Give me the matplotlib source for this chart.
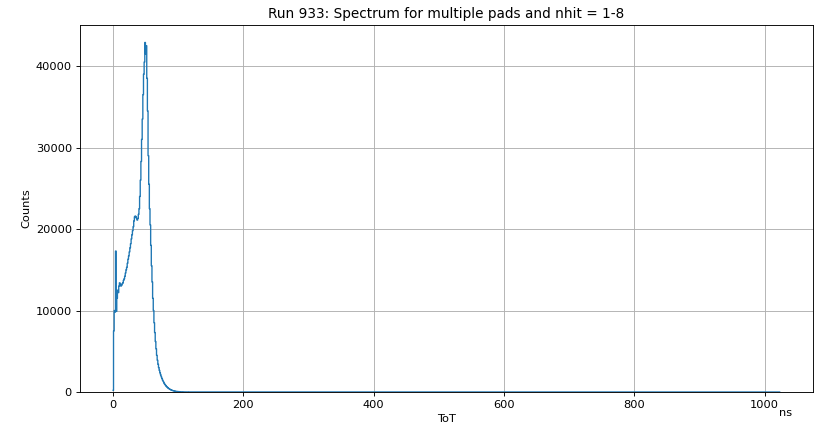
import numpy as np
import matplotlib
matplotlib.use("Agg")
import matplotlib.pyplot as plt

# counts per ToT bin (ns) for bins 0..120
peak_counts = [
    200, 7500, 10000, 9800, 17300, 9900, 11500, 12500, 12200, 13000,
    13400, 13200, 13000, 13100, 13300, 13400, 13700, 13900, 14200, 14600,
    15000, 15300, 15800, 16300, 16700, 17200, 17700, 18200, 18800, 19300,
    19800, 20300, 21000, 21500, 21600, 21500, 21300, 21100, 21300, 21800,
    22500, 24000, 26000, 28300, 31000, 33500, 36500, 39000, 40500, 42900,
    41500, 42500, 38500, 34500, 29000, 25500, 22500, 20500, 18000, 15500,
    13500, 11500, 10000, 8500, 7300, 6200, 5300, 4500, 3900, 3400,
    3000, 2650, 2350, 2100, 1850, 1650, 1450, 1280, 1120, 990,
    870, 760, 670, 590, 510, 450, 390, 340, 295, 255,
    220, 190, 165, 140, 120, 105, 90, 78, 68, 60,
    52, 46, 40, 35, 31, 27, 24, 21, 18, 16,
    14, 12, 11, 10, 9, 8, 7, 6, 5, 4, 3,
]
n_bins = 1024  # ToT range 0..1023 ns, flat zero after the peak region

counts = np.zeros(n_bins)
counts[:len(peak_counts)] = peak_counts
tot = np.arange(n_bins)

# drawn on a 10 inch canvas, shrunk to 815 px wide
fig = plt.figure(figsize=(10, 5.227), dpi=81.5)
ax = fig.add_axes([0.098, 0.0798, 0.8995, 0.8615])

ax.plot(tot, counts, drawstyle="steps-mid", color="#1f77b4", linewidth=1.2)
ax.set_ylim(bottom=0)
ax.grid(True)

ax.set_title("Run 933: Spectrum for multiple pads and nhit = 1-8")
ax.set_xlabel("ToT")
ax.set_ylabel("Counts")
ax.text(0.963, -0.057, "ns", transform=ax.transAxes, ha="center", va="center")

fig.savefig("out.png", dpi=81.5)
